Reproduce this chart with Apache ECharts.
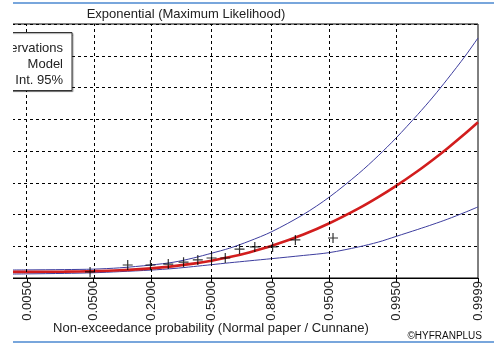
<!DOCTYPE html>
<html>
<head>
<meta charset="utf-8">
<script src="https://cdn.jsdelivr.net/npm/echarts@6/dist/echarts.min.js"></script>
<style>
  html, body { margin: 0; padding: 0; background: #fff; }
  #chart { width: 494px; height: 343px; }
</style>
</head>
<body>
<div id="chart"></div>
<script>
// Probability ticks on the normal-probability x axis
const tickProbs  = [0.005, 0.05, 0.2, 0.5, 0.8, 0.95, 0.995, 0.9999];
const tickLabels = ['0.0050', '0.0500', '0.2000', '0.5000', '0.8000', '0.9500', '0.9950', '0.9999'];

// Non-exceedance probabilities at which the fitted curves are given
const curveProbs  = [0.0015, 0.005, 0.02, 0.05, 0.1, 0.2, 0.3, 0.4, 0.5, 0.6, 0.7, 0.8,
                     0.9, 0.95, 0.98, 0.99, 0.995, 0.998, 0.999, 0.9995, 0.9998, 0.9999];
// Fitted exponential quantiles (model)
const modelValues = [1.91, 1.93, 2.00, 2.16, 2.44, 3.04, 3.73, 4.52, 5.45, 6.59, 8.06, 10.14,
                     13.69, 17.24, 21.93, 25.48, 29.03, 33.72, 37.27, 40.82, 45.51, 49.06];
// 95% confidence interval bounds
const upperValues = [2.5, 2.55, 2.65, 2.8, 3.2, 4.1, 5.0, 6.3, 7.8, 9.4, 11.6, 14.6,
                     20.0, 25.5, 32.9, 38.5, 44.1, 51.5, 57.0, 62.6, 69.9, 75.6];
const lowerValues = [1.2, 1.3, 1.45, 1.65, 2.0, 2.5, 3.0, 3.6, 4.2, 4.8, 5.4, 6.1,
                     7.1, 8.0, 9.8, 11.3, 13.1, 15.3, 16.9, 18.5, 20.7, 22.4];

// Observations with their plotting positions
const obsProbs  = [0.045, 0.121, 0.197, 0.273, 0.348, 0.424, 0.5, 0.576, 0.652, 0.727, 0.803, 0.879, 0.955];
const obsValues = [1.9, 4.1, 4.1, 4.4, 5.0, 5.7, 6.3, 6.3, 9.1, 9.8, 9.8, 12.0, 12.6];

// Standard normal quantile (Acklam's rational approximation) for normal paper
function normInv(p) {
  const a = [-3.969683028665376e+01, 2.209460984245205e+02, -2.759285104469687e+02,
             1.383577518672690e+02, -3.066479806614716e+01, 2.506628277459239e+00];
  const b = [-5.447609879822406e+01, 1.615858368580409e+02, -1.556989798598866e+02,
             6.680131188771972e+01, -1.328068155288572e+01];
  const c = [-7.784894002430293e-03, -3.223964580411365e-01, -2.400758277161838e+00,
             -2.549732539343734e+00, 4.374664141464968e+00, 2.938163982698783e+00];
  const d = [7.784695709041462e-03, 3.224671290700398e-01, 2.445134137142996e+00,
             3.754408661907416e+00];
  const pl = 0.02425, ph = 1 - pl;
  let q, r;
  if (p < pl) {
    q = Math.sqrt(-2 * Math.log(p));
    return (((((c[0]*q+c[1])*q+c[2])*q+c[3])*q+c[4])*q+c[5]) / ((((d[0]*q+d[1])*q+d[2])*q+d[3])*q+1);
  }
  if (p <= ph) {
    q = p - 0.5; r = q * q;
    return (((((a[0]*r+a[1])*r+a[2])*r+a[3])*r+a[4])*r+a[5])*q / (((((b[0]*r+b[1])*r+b[2])*r+b[3])*r+b[4])*r+1);
  }
  q = Math.sqrt(-2 * Math.log(1 - p));
  return -(((((c[0]*q+c[1])*q+c[2])*q+c[3])*q+c[4])*q+c[5]) / ((((d[0]*q+d[1])*q+d[2])*q+d[3])*q+1);
}

const tickZ = tickProbs.map(normInv);
const pairs = (probs, vals) => probs.map((p, i) => [normInv(p), vals[i]]);

const FONT = '"Liberation Sans", Arial, sans-serif';
const chart = echarts.init(document.getElementById('chart'), null, { renderer: 'canvas' });

chart.setOption({
  animation: false,
  backgroundColor: '#fff',
  grid: { left: 12, right: 16, top: 24, bottom: 65, show: true, borderColor: '#000', borderWidth: 1, backgroundColor: 'transparent' },
  xAxis: {
    type: 'value',
    min: -2.785,
    max: normInv(0.9999),
    axisLine: { show: true, onZero: false, lineStyle: { color: '#000', width: 1 } },
    axisTick: { show: true, length: 5, lineStyle: { color: '#000' }, customValues: tickZ },
    axisLabel: {
      show: true, rotate: 90, margin: 3, customValues: tickZ,
      fontFamily: FONT, fontSize: 13, color: '#222',
      formatter: v => {
        let best = 0;
        tickZ.forEach((z, i) => { if (Math.abs(z - v) < Math.abs(tickZ[best] - v)) best = i; });
        return tickLabels[best];
      }
    },
    splitLine: { show: false }
  },
  yAxis: {
    type: 'value', min: 0, max: 80, interval: 10,
    axisLine: { show: false }, axisTick: { show: false }, axisLabel: { show: false },
    splitLine: { show: true, lineStyle: { color: '#000', width: 1, type: [3, 3] } }
  },
  series: [
    {
      type: 'line', name: 'grid', data: [], silent: true,
      markLine: {
        silent: true, symbol: 'none', label: { show: false },
        lineStyle: { color: '#000', width: 1, type: [3, 3] },
        data: tickZ.slice(0, 7).map(z => ({ xAxis: z }))
      }
    },
    {
      type: 'line', name: 'Upper', data: pairs(curveProbs, upperValues), smooth: 0.3,
      showSymbol: false, lineStyle: { color: '#3d3d9e', width: 1 }, z: 3
    },
    {
      type: 'line', name: 'Lower', data: pairs(curveProbs, lowerValues), smooth: 0.3,
      showSymbol: false, lineStyle: { color: '#3d3d9e', width: 1 }, z: 3
    },
    {
      type: 'line', name: 'Model', data: pairs(curveProbs, modelValues), smooth: 0.3,
      showSymbol: false, lineStyle: { color: '#d21d1d', width: 2.6 }, z: 4
    },
    {
      type: 'scatter', name: 'Observations', data: pairs(obsProbs, obsValues),
      symbol: 'path://M0,4.4h10v1.2h-10z M4.4,0h1.2v10h-1.2z', symbolSize: 10,
      itemStyle: { color: '#000' }, z: 5
    }
  ],
  graphic: [
    // legend box
    { type: 'rect', shape: { x: -60, y: 32.5, width: 132, height: 58 },
      style: { fill: '#fff', stroke: '#333', lineWidth: 1, shadowColor: 'rgba(0,0,0,0.35)', shadowOffsetX: 1, shadowOffsetY: 1, shadowBlur: 1 }, z: 50 },
    { type: 'text', x: 63, y: 48, z: 51,
      style: { text: 'Observations', font: '13px ' + FONT, fill: '#222', textAlign: 'right', textVerticalAlign: 'middle' } },
    { type: 'text', x: 63, y: 64, z: 51,
      style: { text: 'Model', font: '13px ' + FONT, fill: '#222', textAlign: 'right', textVerticalAlign: 'middle' } },
    { type: 'text', x: 63, y: 80, z: 51,
      style: { text: 'Conf. Int. 95%', font: '13px ' + FONT, fill: '#222', textAlign: 'right', textVerticalAlign: 'middle' } },
    // white margin on the left edge
    { type: 'rect', shape: { x: 0, y: 0, width: 13, height: 343 }, style: { fill: '#fff' }, z: 60 },
    // title and axis captions
    { type: 'text', x: 186, y: 14, z: 51,
      style: { text: 'Exponential (Maximum Likelihood)', font: '13px ' + FONT, fill: '#222', textAlign: 'center', textVerticalAlign: 'middle' } },
    { type: 'text', x: 211, y: 328, z: 51,
      style: { text: 'Non-exceedance probability (Normal paper / Cunnane)', font: '13px ' + FONT, fill: '#222', textAlign: 'center', textVerticalAlign: 'middle' } },
    { type: 'text', x: 482, y: 336, z: 51,
      style: { text: '©HYFRANPLUS', font: '10px ' + FONT, fill: '#111', textAlign: 'right', textVerticalAlign: 'middle' } },
    // window frame lines
    { type: 'line', shape: { x1: 13, y1: 3, x2: 494, y2: 3 }, style: { stroke: '#78a6dc', lineWidth: 2 }, z: 61 },
    { type: 'line', shape: { x1: 13, y1: 342, x2: 494, y2: 342 }, style: { stroke: '#78a6dc', lineWidth: 2 }, z: 61 }
  ]
});
</script>
</body>
</html>
